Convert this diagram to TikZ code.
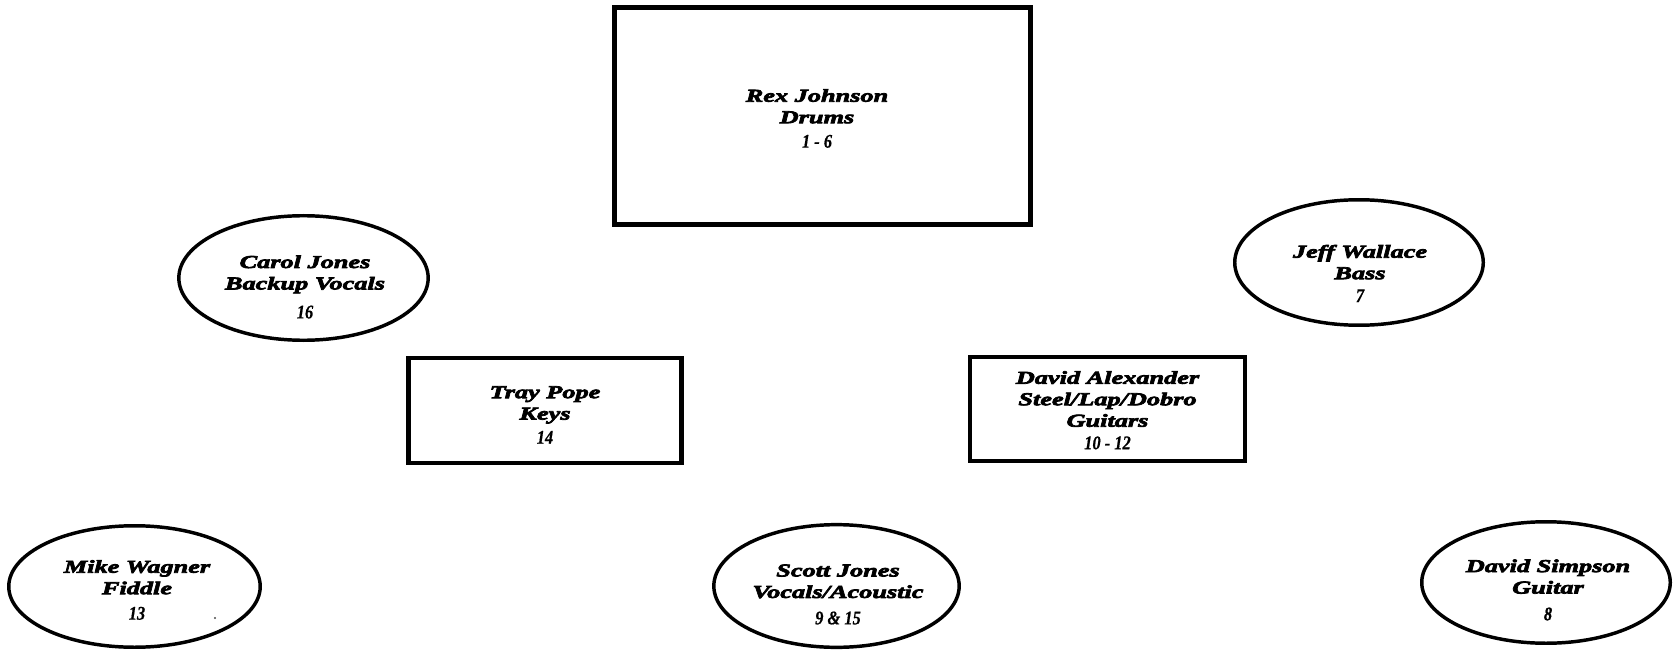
\documentclass[tikz,border=0pt]{standalone}
\usepackage{fontspec}
\usetikzlibrary{shapes.geometric}
\newfontfamily\namefont{Liberation Serif}[FakeStretch=1.45,FakeBold=4]
\newfontfamily\numfont{Liberation Serif}[FakeStretch=0.85,FakeBold=0.6]
\newcommand{\nm}[1]{{\numfont\itshape\fontsize{14.5}{16.1}\selectfont #1}}
\tikzset{
  boxshape/.style={draw=black, line width=3.4pt, rectangle, inner sep=0pt, fill=white},
  ellshape/.style={draw=black, line width=2.6pt, ellipse, inner sep=0pt, fill=white},
  label text/.style={align=center, inner sep=0pt,
    font=\namefont\bfseries\itshape\fontsize{13.6}{16.1}\selectfont}
}
\begin{document}
\begin{tikzpicture}[x=0.75pt,y=-0.75pt]
\useasboundingbox (0,0) rectangle (1673,652);
% shapes
\node[boxshape, line width=3.75pt, minimum width=312pt, minimum height=162.75pt] (rex) at (822.5,116) {};
\node[boxshape, minimum width=205pt, minimum height=78.75pt] (tray) at (545,410.5) {};
\node[boxshape, minimum width=206pt, minimum height=78pt] (davida) at (1107.5,409) {};
\node[ellshape, minimum width=187pt, minimum height=93.4pt] (carol) at (303.5,278) {};
\node[ellshape, minimum width=186.4pt, minimum height=94.1pt] (jeff) at (1359,262.5) {};
\node[ellshape, minimum width=188.6pt, minimum height=91.1pt] (mike) at (134.5,586.5) {};
\node[ellshape, minimum width=184pt, minimum height=92pt] (scott) at (836.5,586) {};
\node[ellshape, minimum width=186.4pt, minimum height=91.1pt] (dsimpson) at (1546,582.5) {};
% texts
\node[label text] (rexT) at (817,118.5) {Rex Johnson\\Drums\\[2.25pt]\nm{1 - 6}};
\node[label text] (trayT) at (545,415) {Tray Pope\\Keys\\[2pt]\nm{14}};
\node[label text] (davidaT) at (1107.5,410.3) {David Alexander\\Steel/Lap/Dobro\\Guitars\\[0.8pt]\nm{10 - 12}};
\node[label text] (carolT) at (305,287) {Carol Jones\\Backup Vocals\\[5.6pt]\nm{16}};
\node[label text] (jeffT) at (1360,273.5) {Jeff Wallace\\Bass\\[1.1pt]{\numfont\fontsize{14.5}{16.1}\selectfont 7}};
\node[label text] (mikeT) at (137,590) {Mike Wagner\\Fiddle\\[3pt]\nm{13}};
\node[label text] (scottT) at (838,594.5) {Scott Jones\\Vocals/Acoustic\\[3.7pt]\nm{9 \& 15}};
\node[label text] (dsimpsonT) at (1548,590) {David Simpson\\Guitar\\[4pt]\nm{8}};
% stray dot
\fill[black!70] (215,618) circle (1.2);
\end{tikzpicture}
\end{document}
